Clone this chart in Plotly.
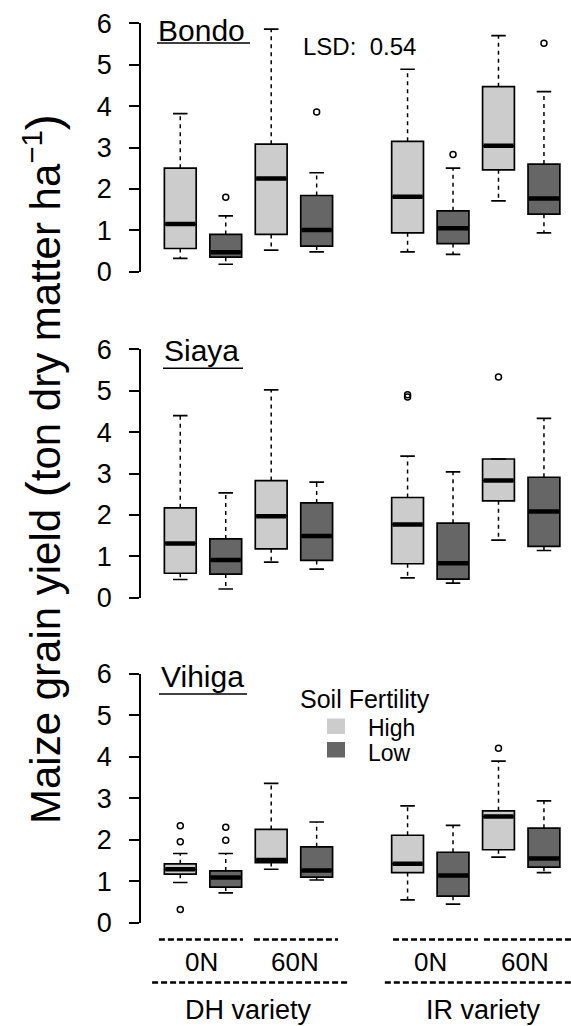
import plotly.graph_objects as go

# ---------------- data ----------------
SITES = ["Bondo", "Siaya", "Vihiga"]
VARIETIES = ["DH variety", "IR variety"]
N_RATES = ["0N", "60N"]
FERTILITY = ["High", "Low"]

# order of the 8 boxes in each panel:
# DH-0N-High, DH-0N-Low, DH-60N-High, DH-60N-Low, IR-0N-High, IR-0N-Low, IR-60N-High, IR-60N-Low
bondo_lower = [0.32, 0.18, 0.52, 0.48, 0.48, 0.42, 1.71, 0.94]
bondo_q1 = [0.56, 0.35, 0.90, 0.62, 0.94, 0.68, 2.46, 1.39]
bondo_median = [1.15, 0.47, 2.25, 1.01, 1.81, 1.05, 3.04, 1.77]
bondo_q3 = [2.50, 0.90, 3.08, 1.84, 3.15, 1.47, 4.47, 2.60]
bondo_upper = [3.82, 1.35, 5.86, 2.39, 4.89, 2.50, 5.70, 4.35]
bondo_outliers = [[], [1.80], [], [3.86], [], [2.83], [], [5.52]]

siaya_lower = [0.44, 0.21, 0.86, 0.69, 0.48, 0.35, 1.39, 1.14]
siaya_q1 = [0.59, 0.57, 1.18, 0.90, 0.82, 0.45, 2.34, 1.24]
siaya_median = [1.31, 0.91, 1.97, 1.49, 1.77, 0.83, 2.83, 2.08]
siaya_q3 = [2.17, 1.42, 2.83, 2.29, 2.42, 1.80, 3.35, 2.91]
siaya_upper = [4.40, 2.53, 5.02, 2.79, 3.42, 3.04, 3.35, 4.33]
siaya_outliers = [[], [], [], [], [4.90, 4.85], [], [5.33], []]

vihiga_lower = [0.97, 0.72, 1.29, 1.03, 0.55, 0.45, 1.58, 1.21]
vihiga_q1 = [1.17, 0.86, 1.45, 1.10, 1.21, 0.64, 1.76, 1.34]
vihiga_median = [1.29, 1.09, 1.51, 1.26, 1.42, 1.14, 2.56, 1.55]
vihiga_q3 = [1.42, 1.25, 2.25, 1.83, 2.11, 1.70, 2.70, 2.28]
vihiga_upper = [1.67, 1.67, 3.36, 2.43, 2.82, 2.35, 3.90, 2.94]
vihiga_outliers = [[2.34, 1.95, 0.32], [2.30, 1.99], [], [], [], [], [4.21], []]

LSD_TEXT = "LSD:  0.54"
Y_TICKS = [0, 1, 2, 3, 4, 5, 6]

panels = [
    (bondo_lower, bondo_q1, bondo_median, bondo_q3, bondo_upper, bondo_outliers),
    (siaya_lower, siaya_q1, siaya_median, siaya_q3, siaya_upper, siaya_outliers),
    (vihiga_lower, vihiga_q1, vihiga_median, vihiga_q3, vihiga_upper, vihiga_outliers),
]

# ---------------- styling ----------------
FONT = "Liberation Sans, Arial, Helvetica, sans-serif"
COLORS = {"High": "#cccccc", "Low": "#666666"}
BOX_W = 0.7
CAP_HALF = 0.16
FIG_W, FIG_H = 571, 1026
ML = 141
PW = FIG_W - ML


def px_x(px):
    return (px - ML) / PW


def px_y(py):
    return 1 - py / FIG_H


# box positions from the grouping structure
labels, positions = [], []
for vi, v in enumerate(VARIETIES):
    for ni, n in enumerate(N_RATES):
        for fi, f in enumerate(FERTILITY):
            labels.append(f)
            positions.append(1 + vi * 5 + ni * 2 + fi)

# pixel rows of y=0 and y=6 in each panel
PANEL_PX = [(271.7, 23.3), (597.7, 349.3), (922.7, 674.0)]

fig = go.Figure()

for pi, (lo, q1, med, q3, hi, outl) in enumerate(panels):
    xa = "x" if pi == 0 else f"x{pi + 1}"
    ya = "y" if pi == 0 else f"y{pi + 1}"
    for f in FERTILITY:
        idx = [i for i, l in enumerate(labels) if l == f]
        fig.add_trace(go.Box(
            x=[positions[i] for i in idx],
            q1=[q1[i] for i in idx], median=[med[i] for i in idx],
            q3=[q3[i] for i in idx],
            lowerfence=[q1[i] for i in idx], upperfence=[q3[i] for i in idx],
            width=BOX_W, fillcolor=COLORS[f], whiskerwidth=0,
            line=dict(color="black", width=1.7), boxpoints=False,
            name=f, showlegend=False, hoverinfo="skip",
            xaxis=xa, yaxis=ya))
    wx, wy = [], []
    for i, p in enumerate(positions):
        wx += [p, p, None, p, p, None]
        wy += [q3[i], hi[i], None, q1[i], lo[i], None]
    fig.add_trace(go.Scatter(x=wx, y=wy, mode="lines",
                             line=dict(color="black", width=1.5, dash="4px,4px"),
                             showlegend=False, hoverinfo="skip", xaxis=xa, yaxis=ya))
    sx, sy = [], []
    for i, p in enumerate(positions):
        sx += [p - CAP_HALF, p + CAP_HALF, None, p - CAP_HALF, p + CAP_HALF, None]
        sy += [hi[i], hi[i], None, lo[i], lo[i], None]
    fig.add_trace(go.Scatter(x=sx, y=sy, mode="lines",
                             line=dict(color="black", width=1.7),
                             showlegend=False, hoverinfo="skip", xaxis=xa, yaxis=ya))
    mx, my = [], []
    for i, p in enumerate(positions):
        mx += [p - BOX_W / 2 + 0.02, p + BOX_W / 2 - 0.02, None]
        my += [med[i], med[i], None]
    fig.add_trace(go.Scatter(x=mx, y=my, mode="lines",
                             line=dict(color="black", width=4.5),
                             showlegend=False, hoverinfo="skip", xaxis=xa, yaxis=ya))
    ox, oy = [], []
    for i, p in enumerate(positions):
        for v in outl[i]:
            ox.append(p)
            oy.append(v)
    fig.add_trace(go.Scatter(x=ox, y=oy, mode="markers",
                             marker=dict(symbol="circle-open", size=6, color="black",
                                         line=dict(width=1.5)),
                             showlegend=False, hoverinfo="skip", cliponaxis=False,
                             xaxis=xa, yaxis=ya))

layout = dict(
    width=FIG_W, height=FIG_H,
    margin=dict(l=ML, r=0, t=0, b=0, pad=0, autoexpand=False),
    paper_bgcolor="white", plot_bgcolor="white",
    font=dict(family=FONT, color="black"),
    boxmode="overlay", showlegend=False,
)
for pi, (y0px, y6px) in enumerate(PANEL_PX):
    sfx = "" if pi == 0 else str(pi + 1)
    layout["xaxis" + sfx] = dict(range=[0.136, 9.595], visible=False,
                                 anchor="y" + sfx, domain=[0, 1], automargin=False)
    layout["yaxis" + sfx] = dict(
        range=[0, 6], domain=[px_y(y0px), px_y(y6px)], anchor="x" + sfx,
        showline=True, linecolor="black", linewidth=1.5,
        ticks="outside", ticklen=10, tickwidth=1.5, tickcolor="black",
        tickvals=Y_TICKS, ticktext=[str(t) for t in Y_TICKS],
        tickfont=dict(size=27, family=FONT), ticklabelstandoff=12,
        showgrid=False, zeroline=False, fixedrange=True, automargin=False)
fig.update_layout(**layout)

ann = []
shapes = []
TITLE_POS = [(156, 30.5, 157, 250, 43.0), (162, 351.0, 163, 243, 368.3), (159, 676.0, 159, 247, 694.0)]
for s, (tx, ty, ux0, ux1, uy) in zip(SITES, TITLE_POS):
    ann.append(dict(text=s, x=px_x(tx), y=px_y(ty), xref="paper", yref="paper",
                    xanchor="left", yanchor="middle", showarrow=False,
                    font=dict(size=30, family=FONT)))
    shapes.append(dict(type="line", xref="paper", yref="paper",
                       x0=px_x(ux0), x1=px_x(ux1), y0=px_y(uy), y1=px_y(uy),
                       line=dict(color="black", width=1.5)))

ann.append(dict(text=LSD_TEXT, x=px_x(301), y=px_y(46.5), xref="paper", yref="paper",
                xanchor="left", yanchor="middle", showarrow=False,
                font=dict(size=24, family=FONT)))

ann.append(dict(text="Soil Fertility", x=px_x(298), y=px_y(699), xref="paper", yref="paper",
                xanchor="left", yanchor="middle", showarrow=False,
                font=dict(size=25, family=FONT)))
for f, (sy0, sy1, ty) in zip(FERTILITY, [(718.5, 734.0, 727.5), (742.0, 757.5, 753.0)]):
    shapes.append(dict(type="rect", xref="paper", yref="paper",
                       x0=px_x(327), x1=px_x(345), y0=px_y(sy1), y1=px_y(sy0),
                       fillcolor=COLORS[f], line=dict(width=0)))
    ann.append(dict(text=f, x=px_x(366), y=px_y(ty), xref="paper", yref="paper",
                    xanchor="left", yanchor="middle", showarrow=False,
                    font=dict(size=23, family=FONT)))

ann.append(dict(
    text="Maize grain yield <span style='font-size:48px'>(</span>ton dry matter ha<sup>\u22121</sup><span style='font-size:48px'>)</span>",
    x=px_x(42), y=px_y(469), xref="paper", yref="paper", textangle=-90,
    xanchor="center", yanchor="middle", showarrow=False,
    font=dict(size=42, family=FONT)))

N_LABEL_X = [1.47, 3.52, 6.51, 8.58]
N_RULES = [(0.53, 2.38), (2.62, 4.47), (5.68, 7.55), (7.68, 9.75)]
V_LABEL_X = [2.51, 7.66]
V_RULES = [(0.38, 4.69), (5.50, 9.75)]
for i, xv in enumerate(N_LABEL_X):
    ann.append(dict(text=N_RATES[i % 2], x=xv, y=px_y(962), xref="x3", yref="paper",
                    xanchor="center", yanchor="middle", showarrow=False,
                    font=dict(size=26, family=FONT)))
for (a, b) in N_RULES:
    shapes.append(dict(type="line", xref="x3", yref="paper", x0=a, x1=b,
                       y0=px_y(939.5), y1=px_y(939.5),
                       line=dict(color="black", width=2.5, dash="6px,3px")))
for i, xv in enumerate(V_LABEL_X):
    ann.append(dict(text=VARIETIES[i], x=xv, y=px_y(1010), xref="x3", yref="paper",
                    xanchor="center", yanchor="middle", showarrow=False,
                    font=dict(size=27, family=FONT)))
for (a, b) in V_RULES:
    shapes.append(dict(type="line", xref="x3", yref="paper", x0=a, x1=b,
                       y0=px_y(982.5), y1=px_y(982.5),
                       line=dict(color="black", width=2.5, dash="6px,3px")))

fig.update_layout(annotations=ann, shapes=shapes)
fig.write_html("out.html", config={"displayModeBar": False},
               post_script="document.body.style.margin='0';document.body.style.overflow='hidden';")
